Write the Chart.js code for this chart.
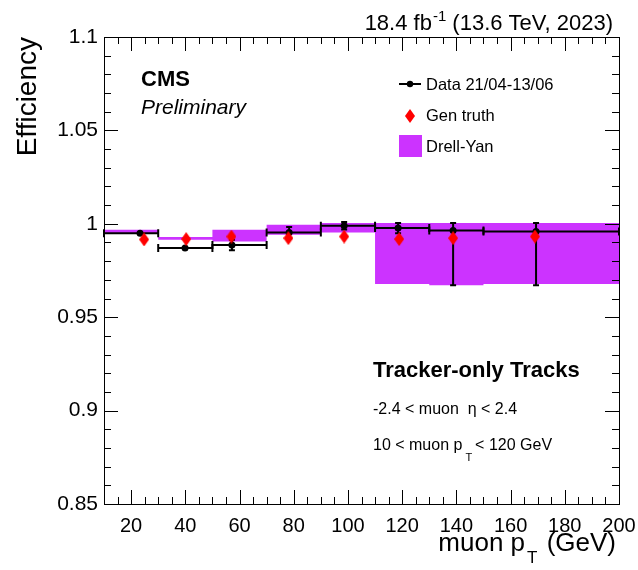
<!DOCTYPE html>
<html>
<head>
<meta charset="utf-8">
<script src="https://cdn.jsdelivr.net/npm/chart.js@4.4.0/dist/chart.umd.min.js"></script>
<style>
  body { margin: 0; background: #fff; }
</style>
</head>
<body>
<canvas id="eff" width="638" height="570"></canvas>
<script>
// pT bins (GeV)
const binEdges = [10, 30, 50, 70, 90, 110, 130, 150, 200];

// Data 21/04-13/06
const dataX = [23.3, 39.9, 57.2, 78.3, 98.6, 118.5, 138.8, 169.4];
const dataEff = [0.9950, 0.9871, 0.9887, 0.9953, 0.9989, 0.9977, 0.9964, 0.9959];
const dataErrUp = [0.0004, 0.0004, 0.0028, 0.0030, 0.0020, 0.0027, 0.0040, 0.0045];
const dataErrDown = [0.0004, 0.0004, 0.0028, 0.0030, 0.0020, 0.0027, 0.0293, 0.0288];

// Gen truth
const genX = [24.8, 40.3, 57.0, 78.0, 98.6, 118.9, 138.8, 169.0];
const genEff = [0.9916, 0.9918, 0.9932, 0.9923, 0.9932, 0.9918, 0.9923, 0.9932];

// Drell-Yan band per bin
const dyLow = [0.9945, 0.9914, 0.9905, 0.9941, 0.9953, 0.9678, 0.9671, 0.9678];
const dyHigh = [0.9968, 0.9929, 0.9968, 0.9995, 1.0004, 1.0004, 1.0004, 1.0004];

const xTicks = [20, 40, 60, 80, 100, 120, 140, 160, 180, 200];
const yTicks = [0.85, 0.9, 0.95, 1, 1.05, 1.1];

const FONT = '"Liberation Sans", Arial, Helvetica, sans-serif';
const PURPLE = '#cc33ff';

Chart.defaults.font.family = FONT;
Chart.defaults.color = '#000';

// tall red diamond marker
const diamond = document.createElement('canvas');
diamond.width = 10;
diamond.height = 14;
{
  const d = diamond.getContext('2d');
  d.fillStyle = '#ff0000';
  d.beginPath();
  d.moveTo(5, 0); d.lineTo(10, 7); d.lineTo(5, 14); d.lineTo(0, 7);
  d.closePath();
  d.fill();
}

// stepped band: one point per bin edge, last value repeated at the end edge
const bandPoints = vals => binEdges.map((e, i) => ({ x: e, y: vals[Math.min(i, vals.length - 1)] }));

// draw text pieces left to right
function textRun(ctx, x, y, parts) {
  parts.forEach(p => {
    ctx.font = p.font;
    ctx.fillText(p.t, x, y + (p.dy || 0));
    x += ctx.measureText(p.t).width + (p.gap || 0);
  });
  return x;
}
function runWidth(ctx, parts) {
  return parts.reduce((w, p) => { ctx.font = p.font; return w + ctx.measureText(p.t).width + (p.gap || 0); }, 0);
}

const rootStyle = {
  id: 'rootStyle',
  beforeDatasetDraw(chart, args) {
    if (args.index !== 1) return;
    const { ctx, scales: { x, y } } = chart;
    ctx.save();
    ctx.strokeStyle = '#000';
    ctx.lineWidth = 2;
    dataEff.forEach((v, i) => {
      const px = x.getPixelForValue(dataX[i]);
      const py = y.getPixelForValue(v);
      const xl = x.getPixelForValue(binEdges[i]);
      const xr = x.getPixelForValue(binEdges[i + 1]);
      const yt = y.getPixelForValue(v + dataErrUp[i]);
      const yb = y.getPixelForValue(v - dataErrDown[i]);
      ctx.beginPath();
      ctx.moveTo(xl, py); ctx.lineTo(xr, py);
      ctx.moveTo(xl, py - 4); ctx.lineTo(xl, py + 4);
      ctx.moveTo(xr, py - 4); ctx.lineTo(xr, py + 4);
      ctx.moveTo(px, yt); ctx.lineTo(px, yb);
      ctx.moveTo(px - 3, yt); ctx.lineTo(px + 3, yt);
      ctx.moveTo(px - 3, yb); ctx.lineTo(px + 3, yb);
      ctx.stroke();
    });
    ctx.restore();
  },
  afterDraw(chart) {
    const { ctx, chartArea: a, scales: { x, y } } = chart;
    ctx.save();
    // frame
    ctx.strokeStyle = '#000';
    ctx.lineWidth = 1;
    ctx.strokeRect(a.left + 0.5, a.top + 0.5, a.right - a.left, a.bottom - a.top);
    // inward ticks on all four sides
    ctx.beginPath();
    for (let v = 15; v < 200; v += 5) {
      const len = v % 20 === 0 ? 14 : 7;
      const px = Math.round(x.getPixelForValue(v)) + 0.5;
      ctx.moveTo(px, a.bottom); ctx.lineTo(px, a.bottom - len);
      ctx.moveTo(px, a.top); ctx.lineTo(px, a.top + len);
    }
    for (let k = 86; k < 110; k++) {
      const len = k % 5 === 0 ? 14 : 7;
      const py = Math.round(y.getPixelForValue(k / 100)) + 0.5;
      ctx.moveTo(a.left, py); ctx.lineTo(a.left + len, py);
      ctx.moveTo(a.right, py); ctx.lineTo(a.right - len, py);
    }
    ctx.stroke();

    ctx.fillStyle = '#000';
    ctx.textBaseline = 'alphabetic';
    ctx.textAlign = 'left';

    // luminosity header
    const head = [
      { t: '18.4 fb', font: `22px ${FONT}`, gap: 1 },
      { t: '-1', font: `15px ${FONT}`, dy: -9 },
      { t: ' (13.6 TeV, 2023)', font: `22px ${FONT}` }
    ];
    textRun(ctx, 613 - runWidth(ctx, head), 30, head);

    ctx.font = `bold 22px ${FONT}`;
    ctx.fillText('CMS', 141, 86);
    ctx.font = `italic 21px ${FONT}`;
    ctx.fillText('Preliminary', 141, 114);

    // legend
    ctx.lineWidth = 2;
    ctx.beginPath();
    ctx.moveTo(399, 84); ctx.lineTo(421, 84);
    ctx.stroke();
    ctx.beginPath();
    ctx.arc(410, 84, 3.2, 0, Math.PI * 2);
    ctx.fill();
    ctx.drawImage(diamond, 405, 109);
    ctx.fillStyle = PURPLE;
    ctx.fillRect(399, 135, 23, 22);
    ctx.fillStyle = '#000';
    ctx.font = `16.5px ${FONT}`;
    ctx.fillText('Data 21/04-13/06', 426, 90);
    ctx.fillText('Gen truth', 426, 121);
    ctx.fillText('Drell-Yan', 426, 152);

    // selection text
    ctx.font = `bold 22px ${FONT}`;
    ctx.fillText('Tracker-only Tracks', 373, 377);
    ctx.font = `16px ${FONT}`;
    ctx.fillText('-2.4 < muon  \u03b7 < 2.4', 373, 414);
    textRun(ctx, 373, 450, [
      { t: '10 < muon p', font: `16px ${FONT}`, gap: 3 },
      { t: 'T', font: `11px ${FONT}`, dy: 11, gap: 3 },
      { t: '< 120 GeV', font: `16px ${FONT}` }
    ]);

    // x axis title with subscript
    const xt = [
      { t: 'muon p', font: `26px ${FONT}`, gap: 2 },
      { t: 'T', font: `17px ${FONT}`, dy: 12, gap: 2 },
      { t: ' (GeV)', font: `26px ${FONT}` }
    ];
    textRun(ctx, 616 - runWidth(ctx, xt), 551, xt);
    ctx.restore();
  }
};

new Chart(document.getElementById('eff'), {
  type: 'scatter',
  data: {
    datasets: [
      {
        label: 'Gen truth',
        data: genX.map((v, i) => ({ x: v, y: genEff[i] })),
        pointStyle: diamond,
        pointRadius: 6
      },
      {
        label: 'Data 21/04-13/06',
        data: dataX.map((v, i) => ({ x: v, y: dataEff[i] })),
        pointStyle: 'circle',
        pointRadius: 3.5,
        backgroundColor: '#000',
        borderWidth: 0
      },
      {
        type: 'line',
        label: 'Drell-Yan',
        data: bandPoints(dyHigh),
        stepped: true,
        fill: '+1',
        backgroundColor: PURPLE,
        borderColor: 'rgba(0,0,0,0)',
        borderWidth: 0,
        pointRadius: 0
      },
      {
        type: 'line',
        label: 'Drell-Yan low',
        data: bandPoints(dyLow),
        stepped: true,
        fill: false,
        borderColor: 'rgba(0,0,0,0)',
        borderWidth: 0,
        pointRadius: 0
      }
    ]
  },
  options: {
    responsive: false,
    animation: false,
    events: [],
    layout: { padding: { top: 37, right: 19, left: 0, bottom: 0 } },
    plugins: {
      legend: { display: false },
      tooltip: { enabled: false }
    },
    scales: {
      x: {
        type: 'linear',
        min: 10,
        max: 200,
        afterBuildTicks: s => { s.ticks = xTicks.map(v => ({ value: v })); },
        afterFit: s => { s.height = 66; s.paddingLeft = 0; s.paddingRight = 0; },
        grid: { display: false, drawTicks: false },
        border: { display: false },
        ticks: { font: { size: 20 }, color: '#000', padding: 10, maxRotation: 0, autoSkip: false }
      },
      y: {
        type: 'linear',
        min: 0.85,
        max: 1.1,
        afterBuildTicks: s => { s.ticks = yTicks.map(v => ({ value: v })); },
        afterFit: s => { s.width = 104; },
        grid: { display: false, drawTicks: false },
        border: { display: false },
        ticks: {
          font: { size: 21 },
          color: '#000',
          padding: 6,
          autoSkip: false,
          callback: v => String(Math.round(v * 100) / 100)
        },
        title: {
          display: true,
          text: 'Efficiency',
          align: 'end',
          color: '#000',
          font: { size: 28 },
          padding: { top: 11, bottom: 0 }
        }
      }
    }
  },
  plugins: [rootStyle]
});
</script>
</body>
</html>
